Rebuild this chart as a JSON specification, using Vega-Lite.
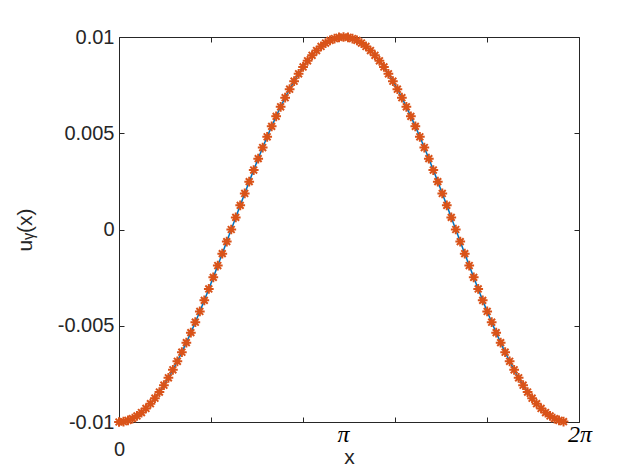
{
  "$schema": "https://vega.github.io/schema/vega-lite/v6.json",
  "width": 460,
  "height": 385,
  "autosize": "none",
  "padding": {"left": 119, "top": 37, "right": 39, "bottom": 48},
  "background": "white",
  "config": {
    "view": {"stroke": null},
    "axis": {
      "domainColor": "#262626", "tickColor": "#262626", "labelColor": "#262626", "titleColor": "#262626",
      "labelFont": "Liberation Sans", "titleFont": "Liberation Sans", "labelFontSize": 20, "titleFontSize": 21,
      "titleFontWeight": "normal", "grid": false, "tickSize": -5, "domainWidth": 1, "tickWidth": 1
    }
  },
  "datasets": {
    "curve": [
      {"x": 0, "u": -0.01}, {"x": 0.0628, "u": -0.00998027}, {"x": 0.1257, "u": -0.00992115}, {"x": 0.1885, "u": -0.00982287},
      {"x": 0.2513, "u": -0.00968583}, {"x": 0.3142, "u": -0.00951057}, {"x": 0.377, "u": -0.00929776}, {"x": 0.4398, "u": -0.00904827},
      {"x": 0.5027, "u": -0.00876307}, {"x": 0.5655, "u": -0.00844328}, {"x": 0.6283, "u": -0.00809017}, {"x": 0.6912, "u": -0.00770513},
      {"x": 0.754, "u": -0.00728969}, {"x": 0.8168, "u": -0.00684547}, {"x": 0.8796, "u": -0.00637424}, {"x": 0.9425, "u": -0.00587785},
      {"x": 1.0053, "u": -0.00535827}, {"x": 1.0681, "u": -0.00481754}, {"x": 1.131, "u": -0.00425779}, {"x": 1.1938, "u": -0.00368125},
      {"x": 1.2566, "u": -0.00309017}, {"x": 1.3195, "u": -0.0024869}, {"x": 1.3823, "u": -0.00187381}, {"x": 1.4451, "u": -0.00125333},
      {"x": 1.508, "u": -0.00062791}, {"x": 1.5708, "u": 0}, {"x": 1.6336, "u": 0.00062791}, {"x": 1.6965, "u": 0.00125333},
      {"x": 1.7593, "u": 0.00187381}, {"x": 1.8221, "u": 0.0024869}, {"x": 1.885, "u": 0.00309017}, {"x": 1.9478, "u": 0.00368125},
      {"x": 2.0106, "u": 0.00425779}, {"x": 2.0735, "u": 0.00481754}, {"x": 2.1363, "u": 0.00535827}, {"x": 2.1991, "u": 0.00587785},
      {"x": 2.2619, "u": 0.00637424}, {"x": 2.3248, "u": 0.00684547}, {"x": 2.3876, "u": 0.00728969}, {"x": 2.4504, "u": 0.00770513},
      {"x": 2.5133, "u": 0.00809017}, {"x": 2.5761, "u": 0.00844328}, {"x": 2.6389, "u": 0.00876307}, {"x": 2.7018, "u": 0.00904827},
      {"x": 2.7646, "u": 0.00929776}, {"x": 2.8274, "u": 0.00951057}, {"x": 2.8903, "u": 0.00968583}, {"x": 2.9531, "u": 0.00982287},
      {"x": 3.0159, "u": 0.00992115}, {"x": 3.0788, "u": 0.00998027}, {"x": 3.1416, "u": 0.01}, {"x": 3.2044, "u": 0.00998027},
      {"x": 3.2673, "u": 0.00992115}, {"x": 3.3301, "u": 0.00982287}, {"x": 3.3929, "u": 0.00968583}, {"x": 3.4558, "u": 0.00951057},
      {"x": 3.5186, "u": 0.00929776}, {"x": 3.5814, "u": 0.00904827}, {"x": 3.6442, "u": 0.00876307}, {"x": 3.7071, "u": 0.00844328},
      {"x": 3.7699, "u": 0.00809017}, {"x": 3.8327, "u": 0.00770513}, {"x": 3.8956, "u": 0.00728969}, {"x": 3.9584, "u": 0.00684547},
      {"x": 4.0212, "u": 0.00637424}, {"x": 4.0841, "u": 0.00587785}, {"x": 4.1469, "u": 0.00535827}, {"x": 4.2097, "u": 0.00481754},
      {"x": 4.2726, "u": 0.00425779}, {"x": 4.3354, "u": 0.00368125}, {"x": 4.3982, "u": 0.00309017}, {"x": 4.4611, "u": 0.0024869},
      {"x": 4.5239, "u": 0.00187381}, {"x": 4.5867, "u": 0.00125333}, {"x": 4.6496, "u": 0.00062791}, {"x": 4.7124, "u": 0},
      {"x": 4.7752, "u": -0.00062791}, {"x": 4.8381, "u": -0.00125333}, {"x": 4.9009, "u": -0.00187381}, {"x": 4.9637, "u": -0.0024869},
      {"x": 5.0265, "u": -0.00309017}, {"x": 5.0894, "u": -0.00368125}, {"x": 5.1522, "u": -0.00425779}, {"x": 5.215, "u": -0.00481754},
      {"x": 5.2779, "u": -0.00535827}, {"x": 5.3407, "u": -0.00587785}, {"x": 5.4035, "u": -0.00637424}, {"x": 5.4664, "u": -0.00684547},
      {"x": 5.5292, "u": -0.00728969}, {"x": 5.592, "u": -0.00770513}, {"x": 5.6549, "u": -0.00809017}, {"x": 5.7177, "u": -0.00844328},
      {"x": 5.7805, "u": -0.00876307}, {"x": 5.8434, "u": -0.00904827}, {"x": 5.9062, "u": -0.00929776}, {"x": 5.969, "u": -0.00951057},
      {"x": 6.0319, "u": -0.00968583}, {"x": 6.0947, "u": -0.00982287}, {"x": 6.1575, "u": -0.00992115}, {"x": 6.2204, "u": -0.00998027}
    ],
    "pi": [{"x": 3.14159, "t": "π"}],
    "twopi": [{"x": 6.28319, "t": "2π"}]
  },
  "layer": [
    {
      "data": {"name": "curve"},
      "mark": {"type": "line", "color": "#0072BD", "strokeWidth": 1.5},
      "encoding": {
        "x": {
          "field": "x", "type": "quantitative",
          "scale": {"domain": [0, 6.437], "nice": false, "zero": false},
          "axis": {
            "orient": "bottom", "title": "x", "values": [0, 1.2874, 2.5748, 3.8622, 5.1496, 6.437],
            "labelExpr": "datum.value == 0 ? '0' : ''", "labelFlush": false, "labelPadding": 22, "titlePadding": -13
          }
        },
        "y": {
          "field": "u", "type": "quantitative",
          "scale": {"domain": [-0.01, 0.01], "nice": false},
          "axis": {
            "orient": "left", "title": "uᵧ(x)", "values": [-0.01, -0.005, 0, 0.005, 0.01],
            "labelExpr": "datum.value < 0 ? '-' + format(-datum.value, '~g') : format(datum.value, '~g')",
            "labelPadding": 10, "titlePadding": 22
          }
        }
      }
    },
    {
      "data": {"name": "curve"},
      "mark": {
        "type": "point", "shape": "M-1,0L1,0M0,-1L0,1M-0.7,-0.7L0.7,0.7M-0.7,0.7L0.7,-0.7",
        "filled": false, "color": "#D95319", "strokeWidth": 2, "size": 95, "opacity": 1
      },
      "encoding": {
        "x": {"field": "x", "type": "quantitative", "axis": {"orient": "top", "labels": false, "title": null, "values": [0, 1.2874, 2.5748, 3.8622, 5.1496, 6.437]}},
        "y": {"field": "u", "type": "quantitative", "axis": {"orient": "right", "labels": false, "title": null, "values": [-0.01, -0.005, 0, 0.005, 0.01]}}
      }
    },
    {
      "data": {"name": "pi"},
      "mark": {"type": "text", "font": "Liberation Serif", "fontStyle": "italic", "fontSize": 24, "color": "#000000", "align": "center", "baseline": "alphabetic", "dy": 20},
      "encoding": {
        "x": {"field": "x", "type": "quantitative", "axis": null},
        "y": {"datum": -0.01, "type": "quantitative", "axis": null},
        "text": {"field": "t"}
      }
    },
    {
      "data": {"name": "twopi"},
      "mark": {"type": "text", "font": "Liberation Serif", "fontStyle": "italic", "fontSize": 24, "color": "#000000", "align": "left", "baseline": "alphabetic", "dy": 20},
      "encoding": {
        "x": {"field": "x", "type": "quantitative", "axis": null},
        "y": {"datum": -0.01, "type": "quantitative", "axis": null},
        "text": {"field": "t"}
      }
    }
  ],
  "resolve": {"axis": {"x": "independent", "y": "independent"}}
}
